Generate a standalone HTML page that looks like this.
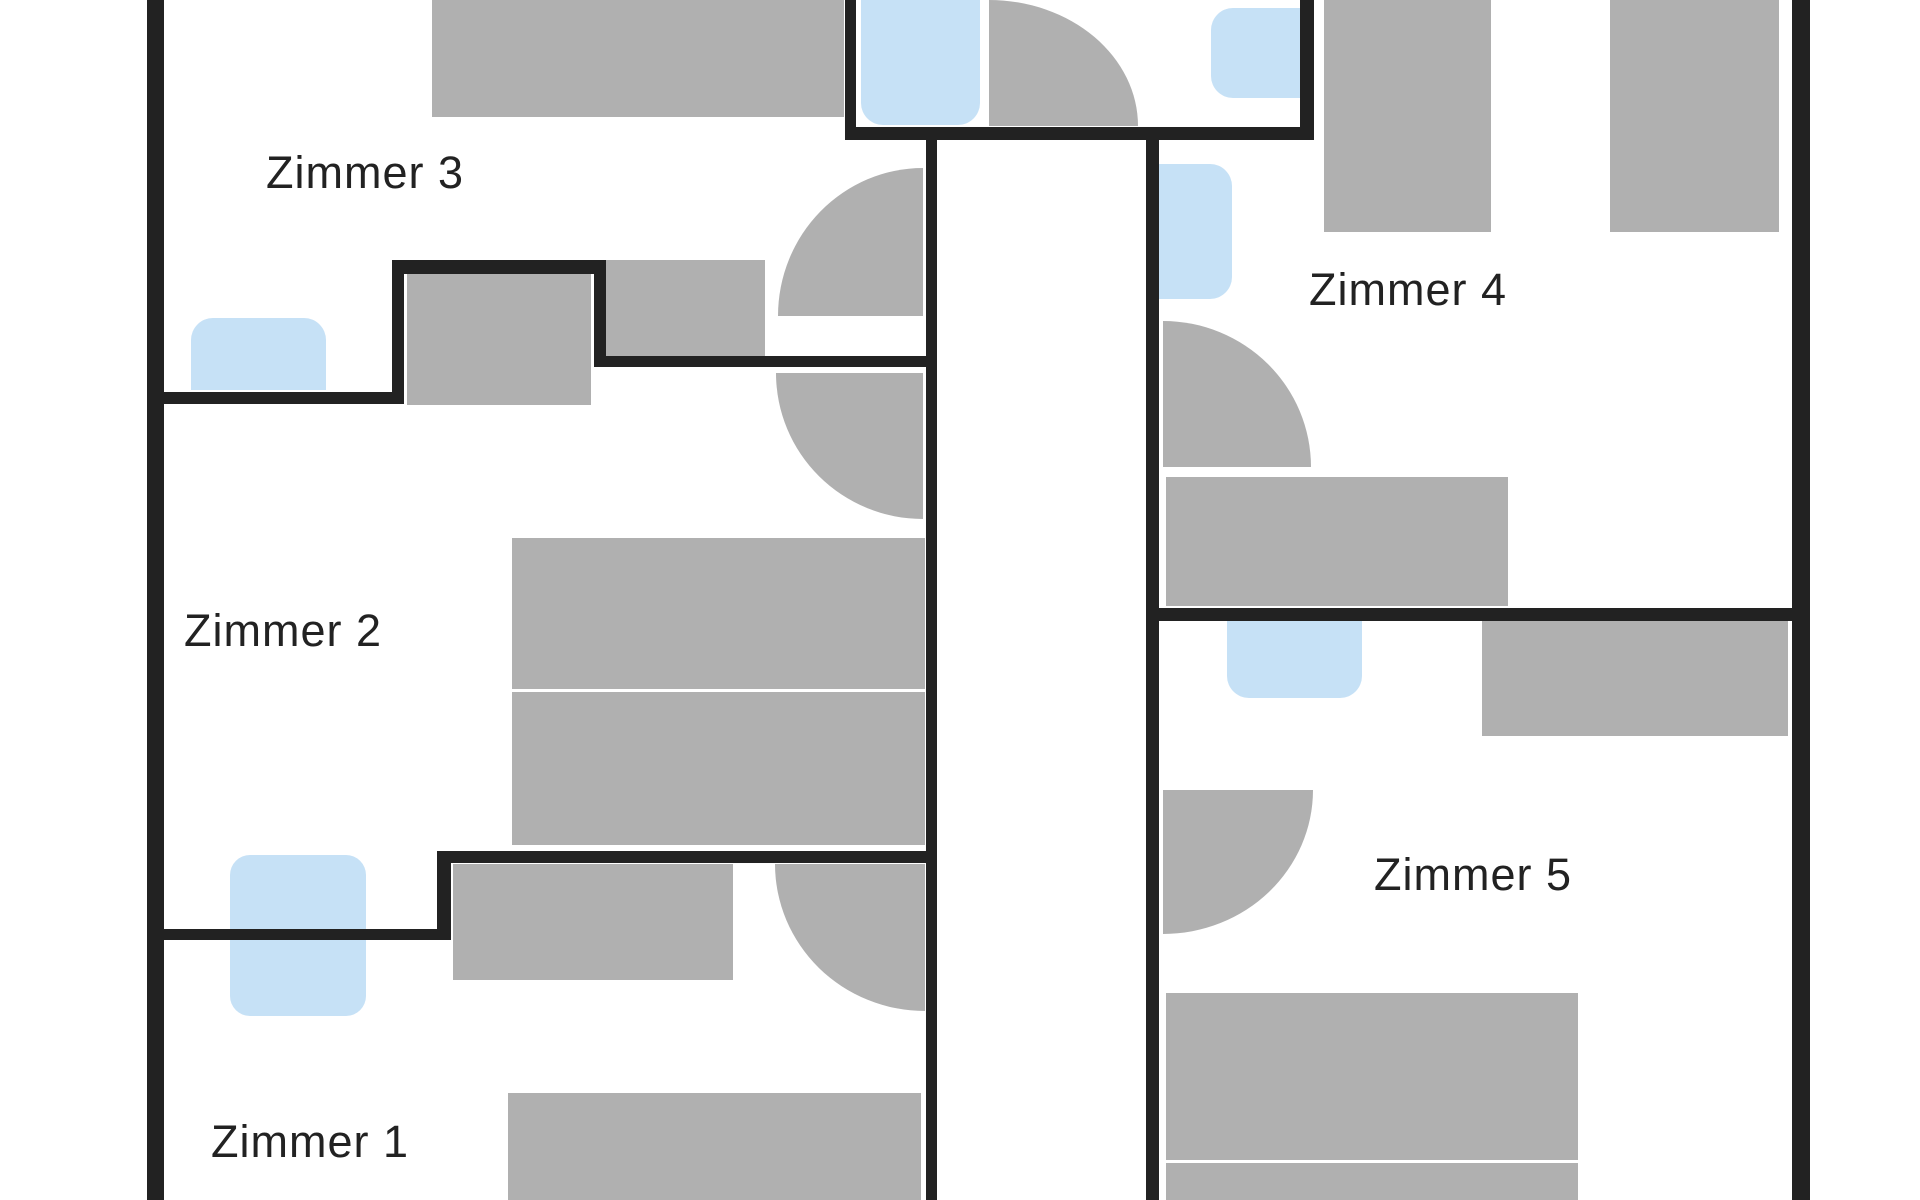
<!DOCTYPE html>
<html><head><meta charset="utf-8"><style>
html,body{margin:0;padding:0;background:#fff;}
body{width:1920px;height:1200px;position:relative;overflow:hidden;font-family:"Liberation Sans",sans-serif;}
div{position:absolute;box-sizing:border-box;}
.w{background:#222;}
.g{background:#b0b0b0;}
.b{background:#c6e1f6;}
.t{color:#222;font-size:45px;line-height:1;white-space:nowrap;letter-spacing:1px;}
</style></head><body>
<!-- furniture -->
<div class="g" style="left:432px;top:0;width:412px;height:117px"></div>
<div class="b" style="left:861px;top:0;width:119px;height:125px;border-radius:0 0 22px 22px"></div>
<div class="g" style="left:989px;top:0;width:149px;height:126px;border-top-right-radius:100% 100%"></div>
<div class="b" style="left:1211px;top:8px;width:89px;height:90px;border-radius:22px 0 0 22px"></div>
<div class="g" style="left:1324px;top:0;width:167px;height:232px"></div>
<div class="g" style="left:1610px;top:0;width:169px;height:232px"></div>
<div class="b" style="left:1159px;top:164px;width:73px;height:135px;border-radius:0 22px 22px 0"></div>
<div class="g" style="left:1163px;top:321px;width:148px;height:146px;border-top-right-radius:100% 100%"></div>
<div class="g" style="left:1166px;top:477px;width:342px;height:129px"></div>

<div class="g" style="left:778px;top:168px;width:145px;height:148px;border-top-left-radius:100% 100%"></div>
<div class="g" style="left:407px;top:274px;width:184px;height:131px"></div>
<div class="g" style="left:606px;top:260px;width:159px;height:96px"></div>
<div class="b" style="left:191px;top:318px;width:135px;height:72px;border-radius:22px 22px 0 0"></div>
<div class="g" style="left:776px;top:373px;width:147px;height:146px;border-bottom-left-radius:100% 100%"></div>
<div class="g" style="left:512px;top:538px;width:413px;height:151px"></div>
<div class="g" style="left:512px;top:692px;width:413px;height:153px"></div>
<div class="b" style="left:230px;top:855px;width:136px;height:161px;border-radius:20px"></div>
<div class="g" style="left:453px;top:864px;width:280px;height:116px"></div>
<div class="g" style="left:775px;top:864px;width:150px;height:147px;border-bottom-left-radius:100% 100%"></div>
<div class="g" style="left:508px;top:1093px;width:413px;height:107px"></div>

<div class="b" style="left:1227px;top:621px;width:135px;height:77px;border-radius:0 0 22px 22px"></div>
<div class="g" style="left:1482px;top:621px;width:306px;height:115px"></div>
<div class="g" style="left:1163px;top:790px;width:150px;height:144px;border-bottom-right-radius:100% 100%"></div>
<div class="g" style="left:1166px;top:993px;width:412px;height:167px"></div>
<div class="g" style="left:1166px;top:1163px;width:412px;height:37px"></div>

<!-- walls -->
<div class="w" style="left:147px;top:0;width:17px;height:1200px"></div>
<div class="w" style="left:1792px;top:0;width:18px;height:1200px"></div>
<div class="w" style="left:926px;top:127px;width:11px;height:1073px"></div>
<div class="w" style="left:1146px;top:127px;width:13px;height:1073px"></div>
<div class="w" style="left:845px;top:0;width:11px;height:140px"></div>
<div class="w" style="left:1300px;top:0;width:14px;height:140px"></div>
<div class="w" style="left:845px;top:127px;width:469px;height:13px"></div>
<div class="w" style="left:1146px;top:608px;width:664px;height:13px"></div>
<div class="w" style="left:147px;top:392px;width:257px;height:12px"></div>
<div class="w" style="left:392px;top:260px;width:12px;height:144px"></div>
<div class="w" style="left:392px;top:260px;width:214px;height:14px"></div>
<div class="w" style="left:594px;top:260px;width:12px;height:107px"></div>
<div class="w" style="left:594px;top:356px;width:343px;height:11px"></div>
<div class="w" style="left:147px;top:929px;width:304px;height:11px"></div>
<div class="w" style="left:437px;top:851px;width:14px;height:89px"></div>
<div class="w" style="left:437px;top:851px;width:500px;height:12px"></div>

<!-- labels -->
<div class="t" style="left:266px;top:150px">Zimmer 3</div>
<div class="t" style="left:1309px;top:267px">Zimmer 4</div>
<div class="t" style="left:184px;top:608px">Zimmer 2</div>
<div class="t" style="left:1374px;top:852px">Zimmer 5</div>
<div class="t" style="left:211px;top:1119px">Zimmer 1</div>
</body></html>
